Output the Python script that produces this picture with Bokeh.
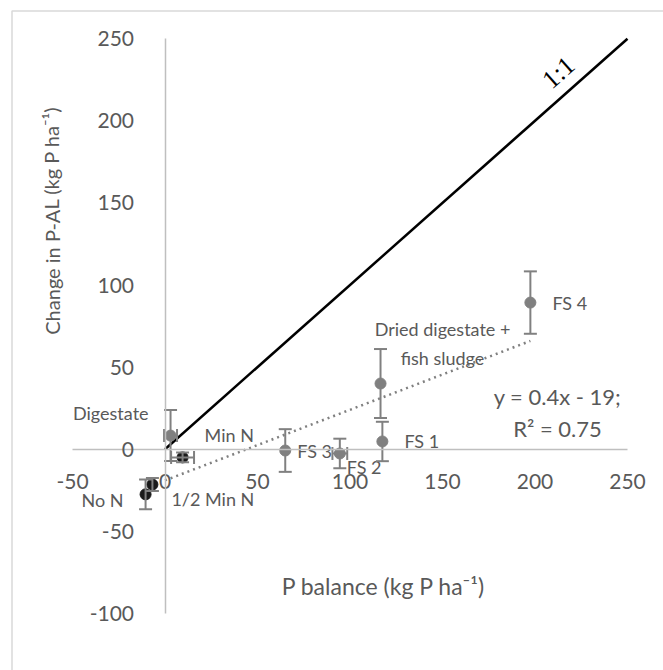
from bokeh.plotting import figure
from bokeh.models import (ColumnDataSource, LinearAxis, FixedTicker, Range1d,
                          Whisker, TeeHead, Label)
from bokeh.core.properties import value
from bokeh.embed import file_html
from bokeh.resources import INLINE

# --- data -------------------------------------------------------------
treatments = ["Digestate", "Min N", "1/2 Min N", "No N", "FS 3", "FS 2",
              "FS 1", "Dried digestate +\nfish sludge", "FS 4"]
groups = ["organic", "mineral", "mineral", "mineral", "organic", "organic",
          "organic", "organic", "organic"]
p_balance = [3, 9.5, -6.8, -10.5, 65, 94.5, 117.5, 116.5, 197.5]      # kg P/ha
change_pal = [8.3, -5, -21.5, -27.5, -0.8, -2.6, 4.7, 40, 89.3]       # kg P/ha
change_err = [15.5, 3, 4, 9, 13, 9, 12, 21, 19]
balance_err = [3.5, 6.2, 0, 0, 0, 4, 0, 0, 0]

x_ticks = [-50, 0, 50, 100, 150, 200, 250]
y_ticks = [-100, -50, 0, 50, 100, 150, 200, 250]

trend_slope = 0.43
trend_intercept = -19
trend_r2 = 0.75
one_to_one = [0, 250]

# --- styling / layout -------------------------------------------------
W, H = 663, 670
X0_PX, PX_PER_X = 164.5, 1.85      # canvas x of P balance = 0, px per unit
Y0_PX, PX_PER_Y = 448.7, 1.642     # canvas y of change = 0, px per unit

def data_x(px):
    return (px - X0_PX) / PX_PER_X

def data_y(py):
    return (Y0_PX - py) / PX_PER_Y

TEXT = "#595959"
GREY = "#808080"
FONT = "Lato"
colors = {"organic": GREY, "mineral": "#1a1a1a"}

# label placement: pixel offsets from the point, and alignment
label_layout = {
    "Digestate": (-22, -23, "right"),
    "Min N": (22, -22, "left"),
    "1/2 Min N": (19, 14, "left"),
    "No N": (-22, 6, "right"),
    "FS 3": (12, 0, "left"),
    "FS 2": (7, 14, "left"),
    "FS 1": (22, 0, "left"),
    "Dried digestate +\nfish sludge": (62, -40, "center"),
    "FS 4": (22, 0, "left"),
}

p = figure(width=W, height=H,
           x_range=Range1d(data_x(0), data_x(W)),
           y_range=Range1d(data_y(H), data_y(0)),
           x_axis_type=None, y_axis_type=None,
           output_backend="svg", toolbar_location=None, min_border=0)
p.outline_line_color = None
p.background_fill_color = "white"
p.border_fill_color = "white"

# chart-area border (top and left edges visible)
p.line(x=[data_x(11.5), data_x(11.5), data_x(W + 20)],
       y=[data_y(H + 20), data_y(10.5), data_y(10.5)],
       line_color="#d9d9d9", line_width=1.5)

# axes crossing at the origin
xaxis = LinearAxis(fixed_location=0, ticker=FixedTicker(ticks=x_ticks),
                   bounds=(x_ticks[0], x_ticks[-1]))
yaxis = LinearAxis(fixed_location=0, ticker=FixedTicker(ticks=y_ticks),
                   bounds=(y_ticks[0], y_ticks[-1]))
for ax, ticks, standoff in ((xaxis, x_ticks, 25), (yaxis, y_ticks, 31)):
    ax.axis_line_color = "#bfbfbf"
    ax.axis_line_width = 1.5
    ax.major_tick_line_color = None
    ax.minor_tick_line_color = None
    ax.major_tick_out = 0
    ax.major_tick_in = 0
    ax.major_label_standoff = standoff
    ax.major_label_text_font = FONT
    ax.major_label_text_font_size = "21px"
    ax.major_label_text_color = TEXT
    ax.major_label_overrides = {t: str(t) for t in ticks}
p.add_layout(xaxis, "below")
p.add_layout(yaxis, "left")

# 1:1 line
p.line(x=one_to_one, y=one_to_one, line_color="black", line_width=2.5)
p.add_layout(Label(x=212.7, y=229.4, text="1:1", angle=0.726,
                   text_align="center", text_baseline="middle",
                   text_font="Liberation Serif", text_font_size="26px",
                   text_color="black"))

# linear trend
trend_x = [0, max(p_balance)]
trend_y = [trend_slope * v + trend_intercept for v in trend_x]
p.line(x=trend_x, y=trend_y, line_color=GREY, line_width=2.5, line_dash="2 4")

# error bars
src = ColumnDataSource(dict(
    x=p_balance, y=change_pal, label=treatments,
    color=[colors[g] for g in groups],
    ylo=[v - e for v, e in zip(change_pal, change_err)],
    yhi=[v + e for v, e in zip(change_pal, change_err)],
    dx=[label_layout[t][0] for t in treatments],
    dy=[label_layout[t][1] for t in treatments],
    align=[label_layout[t][2] for t in treatments],
))
xe = [i for i, e in enumerate(balance_err) if e > 0]
xsrc = ColumnDataSource(dict(
    y=[change_pal[i] for i in xe],
    xlo=[p_balance[i] - balance_err[i] for i in xe],
    xhi=[p_balance[i] + balance_err[i] for i in xe],
))


def head():
    return TeeHead(size=13, line_color=GREY, line_width=2)


p.add_layout(Whisker(source=src, base="x", lower="ylo", upper="yhi",
                     dimension="height", line_color=GREY, line_width=2,
                     upper_head=head(), lower_head=head(), level="glyph"))
p.add_layout(Whisker(source=xsrc, base="y", lower="xlo", upper="xhi",
                     dimension="width", line_color=GREY, line_width=2,
                     upper_head=head(), lower_head=head(), level="glyph"))

# treatment means
p.scatter(x="x", y="y", source=src, size=11, fill_color="color",
          line_color="color", marker="circle")

# data labels
p.text(x="x", y="y", text="label", source=src, x_offset="dx", y_offset="dy",
       text_align="align", text_baseline="middle", text_font=value(FONT),
       text_font_size="18px", text_color=TEXT, text_line_height=1.3)

# regression equation
p.add_layout(Label(x=data_x(557), y=data_y(412),
                   text=f"y = {trend_slope:.1f}x - {abs(trend_intercept)};\nR² = {trend_r2:.2f}",
                   text_align="center", text_baseline="middle",
                   text_font=FONT, text_font_size="22px", text_color=TEXT,
                   text_line_height=1.2))

# axis titles
p.add_layout(Label(x=data_x(383), y=data_y(585), text="P balance (kg P ha⁻¹)",
                   text_align="center", text_baseline="middle",
                   text_font=FONT, text_font_size="23px", text_color=TEXT))
p.add_layout(Label(x=data_x(51), y=data_y(220),
                   text="Change in P-AL (kg P ha⁻¹)", angle=1.5708,
                   text_align="center", text_baseline="middle",
                   text_font=FONT, text_font_size="20px", text_color=TEXT))

open("out.html", "w").write(file_html(p, INLINE))
